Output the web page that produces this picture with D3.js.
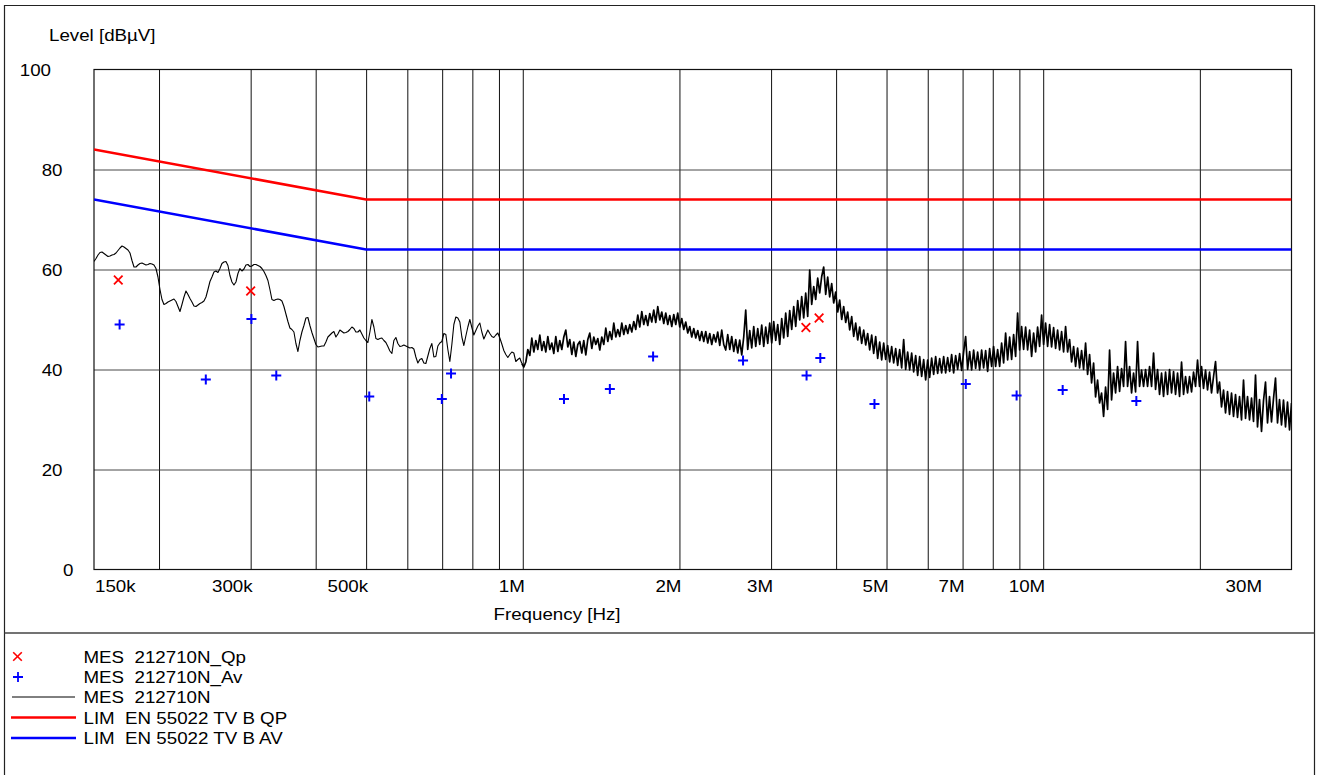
<!DOCTYPE html>
<html>
<head>
<meta charset="utf-8">
<script src="https://cdn.jsdelivr.net/npm/d3@7"></script>
<style>
  body { margin: 0; background: #fff; }
  svg text { font-family: "Liberation Sans", Arial, sans-serif; font-size: 16.3px; fill: #000; white-space: pre; }
</style>
</head>
<body>
<div id="chart"></div>
<script>
// ---- data (frequencies in MHz, levels in dBuV) ----
var gridFreqs = [0.2, 0.3, 0.4, 0.5, 0.6, 0.7, 0.8, 0.9, 1, 2, 3, 4, 5, 6, 7, 8, 9, 10, 20];
var tickFreqs = [0.15, 0.3, 0.5, 1, 2, 3, 5, 7, 10, 30];
var tickLabels = ['150k', '300k', '500k', '1M', '2M', '3M', '5M', '7M', '10M', '30M'];
var levelTicks = [0, 20, 40, 60, 80, 100];

var limQpFreq = [0.15, 0.5, 30], limQpLevel = [84, 74, 74];
var limAvFreq = [0.15, 0.5, 30], limAvLevel = [74, 64, 64];

var qpFreq = [0.167, 0.300, 3.50, 3.71];
var qpLevel = [57.9, 55.7, 48.4, 50.3];

var avFreq = [0.168, 0.246, 0.301, 0.336, 0.507, 0.699, 0.728, 1.20, 1.47, 1.78, 2.65, 3.51, 3.73, 4.74, 7.10, 8.89, 10.9, 15.1];
var avLevel = [49.0, 38.0, 50.1, 38.8, 34.6, 34.1, 39.2, 34.1, 36.1, 42.6, 41.8, 38.8, 42.3, 33.1, 37.1, 34.8, 35.9, 33.7];

// scan: log sweep from traceStart to traceStop, one level per step
var traceStart = 0.15, traceStop = 30;
var traceLevel = [
  61.6,62.2,62.9,63.4,63.5,63.2,62.9,62.6,62.7,62.9,
  63.0,63.3,63.8,64.3,64.7,64.5,64.2,63.9,63.3,61.8,
  60.5,60.5,60.9,61.2,61.3,61.1,60.9,61.0,61.2,61.1,
  60.9,60.2,58.5,56.0,54.0,53.0,53.2,53.5,53.7,53.9,
  54.1,53.6,52.6,51.6,53.0,54.5,55.7,55.0,54.2,53.5,
  52.7,52.6,52.9,53.2,53.4,53.7,54.5,56.0,57.6,58.5,
  59.5,59.7,59.4,60.2,61.2,61.5,61.6,60.8,58.8,57.5,
  56.9,57.5,59.2,60.2,59.7,60.1,60.9,61.0,60.6,60.7,
  61.0,61.0,60.8,60.6,60.2,59.6,58.8,57.8,56.0,54.0,
  53.8,54.0,54.1,54.0,53.7,52.6,51.1,49.6,48.3,48.0,
  47.5,45.2,43.6,45.8,47.5,48.8,50.3,50.4,48.8,47.4,
  46.2,45.0,44.5,44.6,44.7,44.7,45.5,46.5,46.9,47.3,
  47.6,46.5,47.1,47.9,47.6,47.3,47.4,47.6,48.0,48.5,
  48.2,47.5,47.5,47.9,47.1,46.3,45.8,45.4,47.5,50.0,
  48.5,46.2,46.0,46.2,46.3,45.8,45.4,44.6,43.7,43.2,
  45.8,46.4,45.2,44.6,44.7,44.9,44.7,44.5,44.3,44.4,
  44.1,42.5,41.3,42.0,42.2,41.3,41.2,42.7,44.2,45.2,
  42.5,42.6,44.7,45.3,45.6,47.2,47.0,44.0,41.6,45.0,
  49.0,50.5,50.3,49.5,46.5,44.8,46.7,48.5,50.0,48.4,
  46.9,47.8,48.7,49.3,47.5,46.1,47.0,47.9,47.2,46.6,
  46.4,46.9,47.3,46.3,45.1,43.8,43.0,42.4,43.0,43.5,
  43.3,41.6,42.0,42.3,41.2,40.5,41.5,44.0,42.8,46.3,
  43.5,45.8,44.0,46.9,43.8,45.6,43.5,46.6,44.0,45.3,
  43.2,46.6,43.6,45.8,44.0,46.5,47.9,44.5,46.0,43.0,
  45.5,42.6,45.0,45.6,43.3,45.8,42.9,46.0,47.3,44.2,
  46.5,45.0,46.2,43.9,46.5,45.0,48.3,45.6,47.6,46.0,
  49.3,46.5,48.0,46.6,49.3,47.0,48.8,47.2,49.0,47.5,
  49.6,48.0,50.9,48.5,51.6,49.0,50.8,48.8,51.2,49.5,
  51.9,49.4,52.6,49.9,51.5,49.2,51.3,49.0,50.8,48.6,
  51.0,49.0,51.3,48.5,50.2,48.0,49.5,47.3,48.6,46.5,
  48.2,46.3,47.8,45.8,47.6,45.6,47.6,45.3,47.2,45.0,
  47.0,45.5,47.5,44.8,47.9,45.0,43.9,47.0,44.0,46.6,
  43.6,46.0,43.3,45.9,42.9,46.5,51.9,44.0,47.8,44.3,
  48.6,44.6,48.2,45.0,48.9,44.6,48.5,45.2,49.3,45.3,
  49.6,45.8,49.0,45.0,50.2,46.3,51.3,46.6,51.8,48.0,
  52.6,48.6,53.8,49.9,54.6,50.3,55.3,50.6,59.9,53.0,
  56.6,54.0,58.3,55.3,58.6,60.5,55.0,58.5,54.5,57.2,
  53.3,55.5,51.5,53.9,50.0,52.6,49.4,51.5,47.9,50.6,
  46.6,49.3,45.9,48.5,45.2,47.9,44.9,47.2,43.9,46.9,
  43.2,46.6,42.2,45.5,41.9,45.3,42.0,44.8,41.5,44.6,
  41.3,44.2,40.8,44.0,40.3,46.0,40.0,43.5,39.9,43.3,
  39.5,42.8,38.8,42.6,38.6,42.0,37.9,41.9,38.4,42.3,
  39.0,42.6,39.2,42.2,39.3,42.6,39.3,42.4,39.6,43.0,
  39.3,42.8,40.0,43.2,39.8,43.5,46.6,40.0,43.6,39.9,
  43.9,40.2,43.5,39.9,43.9,40.3,43.8,39.6,44.2,40.6,
  44.6,40.6,44.0,40.6,45.3,41.3,47.3,41.9,46.5,42.0,
  47.0,42.6,51.3,43.9,48.6,44.0,48.5,43.9,47.9,42.6,
  47.3,43.5,48.5,44.6,50.9,45.0,49.3,44.6,49.0,44.5,
  48.4,44.2,47.9,43.9,47.6,43.5,48.6,43.5,46.0,41.5,
  44.6,40.6,44.3,40.3,43.8,40.0,45.3,39.0,43.0,37.3,
  41.3,34.5,37.9,33.3,35.3,30.6,36.5,32.0,43.9,33.9,
  39.3,35.3,40.6,35.6,40.2,36.6,45.6,36.6,40.6,35.3,
  39.3,35.5,45.6,36.6,39.9,36.6,40.0,36.6,40.6,36.6,
  43.3,36.0,40.0,35.0,39.3,34.6,39.5,35.0,40.0,35.3,
  39.6,35.0,39.3,34.6,41.5,35.0,38.6,35.3,38.6,35.5,
  39.5,36.6,41.9,36.6,40.6,36.2,39.9,35.9,39.5,35.3,
  38.6,41.6,35.3,37.5,32.5,35.9,31.3,35.6,31.0,35.3,
  30.6,35.0,30.4,34.6,29.9,37.9,30.2,34.6,29.9,34.3,
  29.6,38.9,28.5,34.0,27.6,33.8,37.5,29.3,34.6,29.5,
  34.2,38.3,29.3,34.0,28.9,33.9,28.5,33.5,27.9,33.3
];

var legendNames = ['MES  212710N_Qp', 'MES  212710N_Av', 'MES  212710N', 'LIM  EN 55022 TV B QP', 'LIM  EN 55022 TV B AV'];

// ---- layout ----
var W = 1318, H = 775;
var plot = {left: 94, right: 1291.5, top: 69.5, bottom: 569.5};
var sx = 1.15; // original fonts are drawn a bit wider than Arial

var svg = d3.select('#chart').append('svg')
  .attr('width', W)
  .attr('height', H);

var x = d3.scaleLog().domain([0.15, 30]).range([plot.left, plot.right]);
var y = d3.scaleLinear().domain([0, 100]).range([plot.bottom, plot.top]);

function label(g, px, py, str, anchor) {
  g.append('text')
    .attr('transform', 'translate(' + [px, py] + ') scale(' + sx + ',1)')
    .attr('text-anchor', anchor || 'start')
    .attr('xml:space', 'preserve')
    .text(str);
}

// outer frame and legend separator
svg.append('path')
  .attr('d', 'M4.5,775 V5.5 H1314.5 V775')
  .attr('fill', 'none').attr('stroke', '#222').attr('stroke-width', 1.2);
svg.append('line')
  .attr('x1', 4.5).attr('x2', 1314.5).attr('y1', 633).attr('y2', 633)
  .attr('stroke', '#444').attr('stroke-width', 1.5);

// grid
svg.append('g')
  .attr('transform', 'translate(0,' + plot.bottom + ')')
  .call(d3.axisBottom(x).tickValues(gridFreqs).tickSize(-(plot.bottom - plot.top)).tickFormat(''))
  .call(function(g) {
    g.select('.domain').remove();
    g.selectAll('line').attr('stroke', '#111').attr('stroke-width', 1);
  });
svg.append('g')
  .attr('transform', 'translate(' + plot.left + ',0)')
  .call(d3.axisLeft(y).tickValues([20, 40, 60, 80]).tickSize(-(plot.right - plot.left)).tickFormat(''))
  .call(function(g) {
    g.select('.domain').remove();
    g.selectAll('line').attr('stroke', '#333').attr('stroke-width', 0.9);
  });

svg.append('rect')
  .attr('x', plot.left).attr('y', plot.top)
  .attr('width', plot.right - plot.left).attr('height', plot.bottom - plot.top)
  .attr('fill', 'none').attr('stroke', '#111').attr('stroke-width', 1.2);

// axis labels
var ylab = svg.append('g');
levelTicks.forEach(function(v) {
  var ex = v === 100 ? 51 : (v === 0 ? 73.5 : 62.5);
  label(ylab, ex, y(v) + 6.5, String(v), 'end');
});
label(svg, 49, 40.5, 'Level [dBµV]');

var xlab = svg.append('g');
tickFreqs.forEach(function(f, i) {
  if (i === 0) label(xlab, x(f) + 1, 592, tickLabels[i], 'start');
  else if (i === tickFreqs.length - 1) label(xlab, 1262, 592, tickLabels[i], 'end');
  else label(xlab, x(f) + 2, 592, tickLabels[i], 'end');
});
label(svg, 557, 620, 'Frequency [Hz]', 'middle');

// plot content
svg.append('clipPath').attr('id', 'clip')
  .append('rect')
  .attr('x', plot.left).attr('y', plot.top)
  .attr('width', plot.right - plot.left).attr('height', plot.bottom - plot.top);
var area = svg.append('g').attr('clip-path', 'url(#clip)');

var n = traceLevel.length;
var traceFreq = traceLevel.map(function(d, i) {
  return traceStart * Math.pow(traceStop / traceStart, i / (n - 1));
});
var trace = d3.zip(traceFreq, traceLevel);

var line = d3.line()
  .x(function(d) { return x(d[0]); })
  .y(function(d) { return y(d[1]); });

// below ~1 MHz the scan is a thin line, above it the dense noise looks like a band
area.append('path')
  .datum(trace.filter(function(d) { return d[0] <= 1.0; }))
  .attr('d', line)
  .attr('fill', 'none').attr('stroke', '#000').attr('stroke-width', 1.1)
  .attr('stroke-linejoin', 'round');
area.append('path')
  .datum(trace.filter(function(d) { return d[0] >= 0.99; }))
  .attr('d', line)
  .attr('fill', 'none').attr('stroke', '#000').attr('stroke-width', 1.7)
  .attr('stroke-linejoin', 'round');

area.append('path')
  .datum(d3.zip(limQpFreq, limQpLevel))
  .attr('d', line)
  .attr('fill', 'none').attr('stroke', '#ff0000').attr('stroke-width', 2.6);
area.append('path')
  .datum(d3.zip(limAvFreq, limAvLevel))
  .attr('d', line)
  .attr('fill', 'none').attr('stroke', '#0000ff').attr('stroke-width', 2.6);

function crossPath(cx, cy) {
  return 'M' + (cx - 4.3) + ',' + (cy - 4.3) + 'L' + (cx + 4.3) + ',' + (cy + 4.3) +
    'M' + (cx + 4.3) + ',' + (cy - 4.3) + 'L' + (cx - 4.3) + ',' + (cy + 4.3);
}
function plusPath(cx, cy) {
  return 'M' + (cx - 5) + ',' + cy + 'H' + (cx + 5) + 'M' + cx + ',' + (cy - 5) + 'V' + (cy + 5);
}

area.selectAll('path.qp')
  .data(d3.zip(qpFreq, qpLevel))
  .enter().append('path')
  .attr('class', 'qp')
  .attr('d', function(d) { return crossPath(x(d[0]), y(d[1])); })
  .attr('stroke', '#ff0000').attr('stroke-width', 1.8).attr('fill', 'none');

area.selectAll('path.av')
  .data(d3.zip(avFreq, avLevel))
  .enter().append('path')
  .attr('class', 'av')
  .attr('d', function(d) { return plusPath(x(d[0]), y(d[1])); })
  .attr('stroke', '#0000ff').attr('stroke-width', 2).attr('fill', 'none');

// legend
var leg = svg.append('g');
var rowY = [656.5, 677, 697, 717.5, 738];
leg.append('path').attr('d', crossPath(17.5, rowY[0]))
  .attr('stroke', '#ff0000').attr('stroke-width', 1.6).attr('fill', 'none');
leg.append('path').attr('d', plusPath(18, rowY[1]))
  .attr('stroke', '#0000ff').attr('stroke-width', 1.8).attr('fill', 'none');
leg.append('line').attr('x1', 12).attr('x2', 75).attr('y1', rowY[2]).attr('y2', rowY[2])
  .attr('stroke', '#000').attr('stroke-width', 1);
leg.append('line').attr('x1', 11).attr('x2', 76).attr('y1', rowY[3]).attr('y2', rowY[3])
  .attr('stroke', '#ff0000').attr('stroke-width', 2.6);
leg.append('line').attr('x1', 11).attr('x2', 76).attr('y1', rowY[4]).attr('y2', rowY[4])
  .attr('stroke', '#0000ff').attr('stroke-width', 2.6);
legendNames.forEach(function(name, i) {
  label(leg, 83.5, rowY[i] + 6, name, 'start');
});
</script>
</body>
</html>
